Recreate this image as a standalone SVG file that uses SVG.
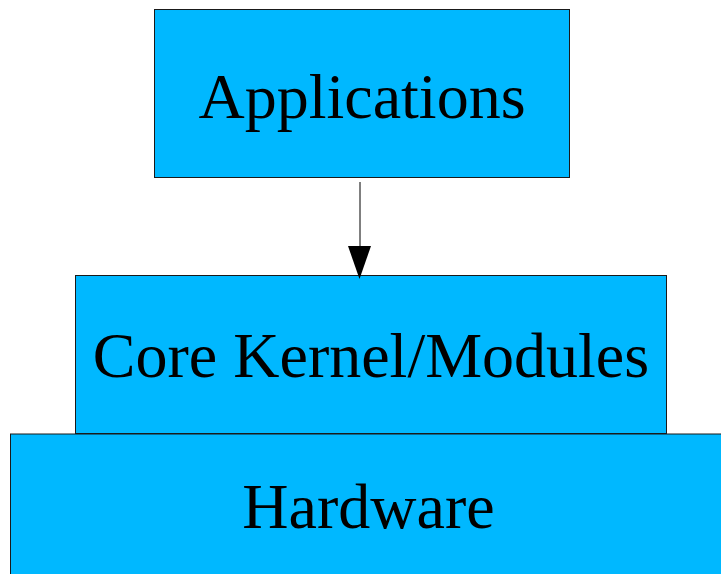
<svg xmlns="http://www.w3.org/2000/svg" width="721" height="574" viewBox="0 0 721 574">
<style>
.box{fill:#00b8ff;stroke:#1a1a1a;stroke-width:1}
.lbl{font-family:"Liberation Serif","Times New Roman",serif;font-size:64px;fill:#000;text-anchor:middle}
</style>
<defs>
<marker id="ah" markerUnits="userSpaceOnUse" markerWidth="24" markerHeight="34" refX="12" refY="33" orient="auto-start-reverse" viewBox="0 0 24 34">
<path d="M0,0 L24,0 L12,34 Z" fill="#000"/>
</marker>
</defs>
<rect width="721" height="574" fill="#fff"/>
<g id="hardware">
<rect class="box" x="10.5" y="434" width="720" height="150"/>
<text class="lbl" x="368.5" y="528">Hardware</text>
</g>
<g id="kernel">
<rect class="box" x="75.5" y="275.5" width="591" height="158"/>
<text class="lbl" x="371" y="377">Core Kernel/Modules</text>
</g>
<g id="applications">
<rect class="box" x="154.5" y="9.5" width="415" height="168"/>
<text class="lbl" x="362" y="118">Applications</text>
</g>
<g id="connectors">
<line x1="360" y1="182" x2="360" y2="248" stroke="#000" stroke-width="1"/>
<path d="M348,246 L371,246 L359.5,279 Z" fill="#000"/>
</g>
</svg>
